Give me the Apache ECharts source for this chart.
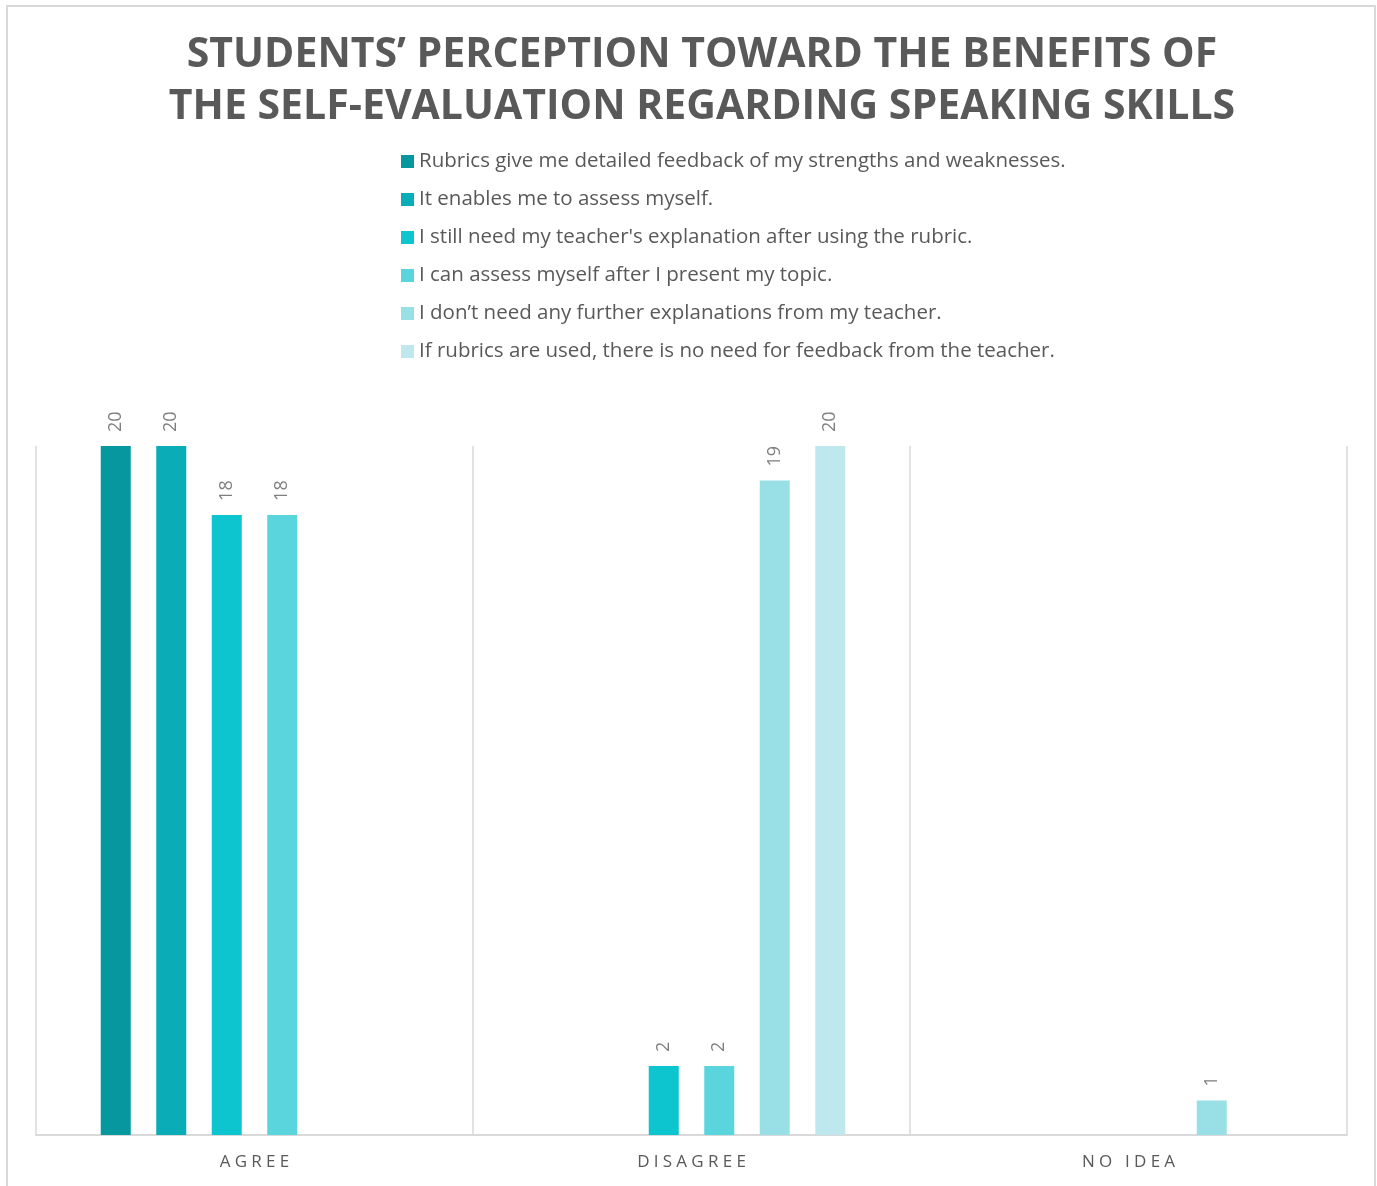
<!DOCTYPE html>
<html>
<head>
<meta charset="utf-8">
<script src="https://cdn.jsdelivr.net/npm/echarts@6/dist/echarts.min.js"></script>
<style>
  html, body { margin: 0; padding: 0; background: #ffffff; }
  #chart { width: 1377px; height: 1186px; }
</style>
</head>
<body>
<div id="chart"></div>
<script>
// Response categories on the x axis
const categories = ['AGREE', 'DISAGREE', 'NO IDEA'];

// Statement names (legend order)
const statements = [
  'Rubrics give me detailed feedback of my strengths and weaknesses.',
  'It enables me to assess myself.',
  "I still need my teacher's explanation after using the rubric.",
  'I can assess myself after I present my topic.',
  'I don\u2019t need any further explanations from my teacher.',
  'If rubrics are used, there is no need for feedback from the teacher.'
];

// Number of students per response (null = no bar)
const rubricsFeedback   = [20, null, null];
const enablesAssess     = [20, null, null];
const stillNeedTeacher  = [18, 2, null];
const assessAfterTopic  = [18, 2, null];
const noFurtherExplain  = [null, 19, 1];
const noNeedFeedback    = [null, 20, null];

const seriesValues = [rubricsFeedback, enablesAssess, stillNeedTeacher,
                      assessAfterTopic, noFurtherExplain, noNeedFeedback];

const palette = ['#07989F', '#0AADB7', '#0CC5CE', '#5AD5DD', '#98E0E5', '#BEE8EE'];

// widely tracked axis labels
const spaced = s => s.split('').join('\u2005');

const chart = echarts.init(document.getElementById('chart'));

chart.setOption({
  animation: false,
  backgroundColor: '#ffffff',
  color: palette,
  title: {
    text: 'STUDENTS\u2019 PERCEPTION TOWARD THE BENEFITS OF\nTHE SELF-EVALUATION REGARDING SPEAKING SKILLS',
    left: 697,
    textAlign: 'center',
    top: 24,
    textStyle: {
      fontFamily: 'Open Sans',
      fontWeight: 'bold',
      fontSize: 41,
      lineHeight: 52,
      color: '#595959'
    }
  },
  legend: {
    orient: 'vertical',
    left: 396,
    top: 146,
    itemWidth: 13,
    itemHeight: 13,
    itemGap: 17,
    icon: 'rect',
    selectedMode: false,
    textStyle: {
      fontFamily: 'Open Sans',
      fontSize: 20.5,
      lineHeight: 21,
      color: '#595959',
      padding: [0, 0, 0, 0]
    },
    data: statements
  },
  grid: {
    left: 36,
    right: 30,
    top: 446,
    bottom: 51,
    containLabel: false
  },
  xAxis: {
    type: 'category',
    data: categories,
    axisLine: { show: true, lineStyle: { color: '#d9d9d9', width: 2 } },
    axisTick: { show: false },
    splitLine: { show: true, lineStyle: { color: '#d9d9d9', width: 1.5 } },
    axisLabel: {
      margin: 19,
      fontFamily: 'Open Sans',
      fontSize: 17,
      color: '#595959',
      formatter: spaced
    }
  },
  yAxis: {
    type: 'value',
    min: 0,
    max: 20,
    show: false,
    splitLine: { show: false }
  },
  graphic: [{
    type: 'rect',
    shape: { x: 7, y: 6, width: 1368, height: 1200 },
    style: { fill: 'none', stroke: '#d9d9d9', lineWidth: 2 },
    silent: true
  }],
  series: statements.map((name, i) => ({
    name: name,
    type: 'bar',
    data: seriesValues[i],
    barWidth: 30,
    barGap: '85%',
    itemStyle: { color: palette[i] },
    label: {
      show: true,
      position: 'top',
      rotate: 90,
      align: 'left',
      verticalAlign: 'middle',
      distance: 14,
      fontFamily: 'Open Sans',
      fontSize: 18,
      color: '#7f7f7f'
    }
  }))
});
</script>
</body>
</html>
